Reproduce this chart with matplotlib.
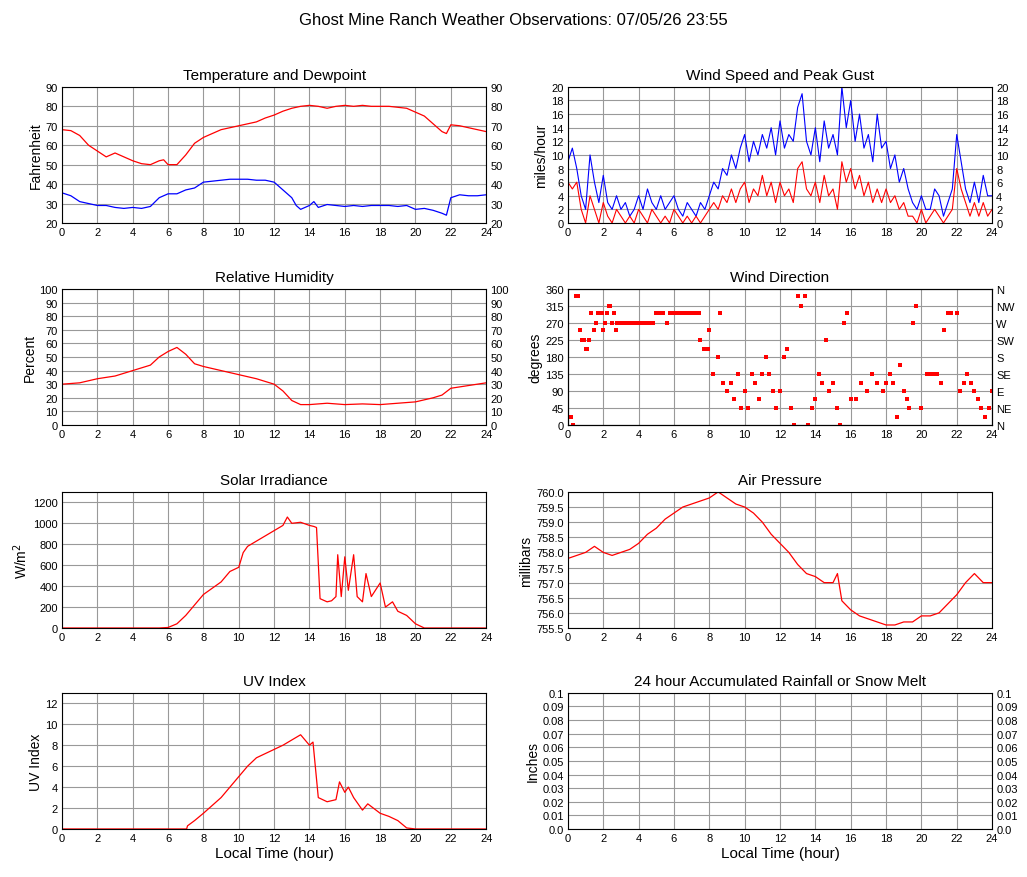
import numpy as np
import matplotlib
matplotlib.use("Agg")
import matplotlib.pyplot as plt

plt.rcParams['font.family'] = ['Liberation Sans', 'DejaVu Sans']

temp_t = [0,0.5,1,1.5,2,2.5,3,3.5,4,4.5,5,5.5,5.75,6,6.5,7,7.5,8,8.5,9,9.5,10,10.5,11,11.5,12,12.5,13,13.5,14,14.5,15,15.5,16,16.5,17,17.5,18,18.5,19,19.5,20,20.5,21,21.5,21.75,22,22.5,23,23.5,24]
temp_v = [68,67.5,65,60,57,54,56,54,52,50.5,50,52,52.5,50,50,55,61,64,66,68,69,70,71,72,74,75.5,77.5,79,80,80.5,80,79,80,80.5,80,80.5,80,80,80,79.5,79,77,75,71,67,66,70.5,70,69,68,67]
dew_t = [0,0.5,1,1.5,2,2.5,3,3.5,4,4.5,5,5.5,6,6.5,7,7.5,8,8.5,9,9.5,10,10.5,11,11.5,12,12.5,13,13.25,13.5,14,14.25,14.5,15,15.5,16,16.5,17,17.5,18,18.5,19,19.5,20,20.5,21,21.5,21.75,22,22.5,23,23.5,24]
dew_v = [35.5,34,31,30,29,29,28,27.5,28,27.5,28.5,33,35,35,37,38,41,41.5,42,42.5,42.5,42.5,42,42,41,37,33,29,27,29,31,28,29.5,29,28.5,29,28.5,29,29,29,28.5,29,27,27.5,26.5,25,24,33,34.5,34,34,34.5]

gust = [9,11,8,4,2,10,6,3,7,3,2,4,2,3,1,2,4,2,5,3,2,4,2,3,4,2,1,3,2,1,3,2,4,6,5,8,7,10,8,11,13,9,12,10,13,11,14,10,15,11,13,12,17,19,12,10,14,9,15,11,13,10,20,14,18,12,16,11,13,9,16,11,12,8,10,6,8,5,3,2,4,2,2,5,4,1,3,5,13,9,5,3,6,3,7,4,4]
speed = [6,5,6,2,0,4,2,0,3,1,0,2,1,0,1,0,2,1,0,2,1,0,1,0,2,1,0,1,0,1,0,1,2,3,2,4,3,5,3,5,6,3,5,4,7,4,6,3,6,4,5,3,8,9,5,4,6,3,7,4,5,2,9,6,8,5,7,4,6,3,5,3,5,3,4,2,3,1,1,0,2,0,1,2,1,0,1,2,8,5,3,1,3,1,3,1,2]

rh_t = [0,1,2,3,4,5,5.5,6,6.5,7,7.5,8,9,10,11,12,12.5,13,13.5,14,15,16,17,18,19,20,21,21.5,22,23,24]
rh_v = [30,31,34,36,40,44,50,54,57,52,45,43,40,37,34,30,25,18,15,15,16,15,15.5,15,16,17,20,22,27,29,31]

dir_t = [0,0.1,0.2,0.3,0.45,0.55,0.7,0.8,0.9,1.0,1.1,1.2,1.3,1.5,1.6,1.7,1.8,1.9,2.0,2.1,2.2,2.3,2.4,2.5,2.6,2.7,2.8,3.0,3.2,3.4,3.6,3.8,4.0,4.2,4.4,4.6,4.8,5.0,5.2,5.4,5.6,5.8,6.0,6.2,6.4,6.6,6.8,7.0,7.2,7.4,7.5,7.7,7.9,8.0,8.2,8.5,8.6,8.8,9.0,9.2,9.4,9.6,9.8,10.0,10.2,10.4,10.6,10.8,11.0,11.2,11.4,11.6,11.8,12.0,12.2,12.4,12.6,12.8,13.0,13.2,13.4,13.6,13.8,14.0,14.2,14.4,14.6,14.8,15.0,15.2,15.4,15.6,15.8,16.0,16.3,16.6,16.9,17.2,17.5,17.8,18.0,18.2,18.4,18.6,18.8,19.0,19.2,19.3,19.5,19.7,20.0,20.3,20.5,20.7,20.9,21.1,21.3,21.5,21.7,22.0,22.2,22.4,22.6,22.8,23.0,23.2,23.4,23.6,23.8,24.0]
dir_v = [22,22,22,0,340,340,250,225,225,200,200,225,295,250,270,295,295,295,250,270,295,315,315,270,295,250,270,270,270,270,270,270,270,270,270,270,270,295,295,295,270,295,295,295,295,295,295,295,295,295,225,200,200,250,135,180,295,110,90,110,70,135,45,90,45,135,110,70,135,180,135,90,45,90,180,200,45,0,340,315,340,0,45,70,135,110,225,90,110,45,0,270,295,70,70,110,90,135,110,90,110,135,110,20,160,90,70,45,270,315,45,135,135,135,135,110,250,295,295,295,90,110,135,110,90,70,45,20,45,90]

sol_t = [0,5.5,6,6.5,7,7.5,8,8.5,9,9.5,10,10.25,10.5,11,11.5,12,12.5,12.75,13,13.5,14,14.25,14.4,14.6,15,15.25,15.5,15.6,15.8,16,16.2,16.5,16.7,17,17.2,17.5,18,18.3,18.7,19,19.5,20,20.5,24]
sol_v = [0,0,5,40,120,220,320,380,440,540,580,720,780,830,880,930,980,1060,1000,1010,980,970,960,280,250,260,300,700,300,680,360,700,300,250,520,300,430,200,250,160,120,40,0,0]

pr_t = list(np.arange(0, 24.01, 0.5)[:31]) + [15.25] + list(np.arange(15.5, 24.01, 0.5))
pr_v = [757.8,757.9,758.0,758.2,758.0,757.9,758.0,758.1,758.3,758.6,758.8,759.1,759.3,759.5,759.6,759.7,759.8,760.0,759.8,759.6,759.5,759.3,759.0,758.6,758.3,758.0,757.6,757.3,757.2,757.0,757.0,757.3,756.4,756.1,755.9,755.8,755.7,755.6,755.6,755.7,755.7,755.9,755.9,756.0,756.3,756.6,757.0,757.3,757.0,757.0]

uv_t = [0,7.05,7.1,7.5,8,9,10,10.5,11,12,12.5,13,13.5,14,14.2,14.5,15,15.5,15.7,16,16.2,16.5,17,17.3,18,18.5,19,19.5,20,24]
uv_v = [0,0,0.3,0.8,1.5,3.0,5.0,6,6.8,7.6,8.0,8.5,9.0,8.0,8.3,3.0,2.6,2.8,4.5,3.5,4.0,3.0,1.8,2.4,1.5,1.2,0.8,0.1,0,0]

fig = plt.figure(figsize=(10.27, 8.78), dpi=100)
fig.suptitle("Ghost Mine Ranch Weather Observations: 07/05/26 23:55", y=0.985, fontsize=12)
L, R, W, H = 0.0604, 0.553, 0.413, 0.155
bots = [0.7449, 0.5148, 0.2836, 0.0547]

def mk(col, row, title, ylabel, ylim, yticks, right=False):
    ax = fig.add_axes([L if col == 0 else R, bots[row], W, H])
    ax.set_xlim(0, 24); ax.set_xticks(range(0, 25, 2))
    ax.set_ylim(*ylim); ax.set_yticks(yticks)
    ax.grid(True, color='#999999', lw=0.8)
    ax.set_axisbelow(True)
    ax.set_title(title, fontsize=11)
    ax.set_ylabel(ylabel, fontsize=10, labelpad=2)
    ax.tick_params(labelsize=8, length=0, pad=3, right=False, labelright=right)
    if row == 3:
        ax.set_xlabel("Local Time (hour)", fontsize=11, labelpad=2)
    return ax

ax = mk(0, 0, "Temperature and Dewpoint", "Fahrenheit", (20, 90), range(20, 91, 10), True)
ax.plot(temp_t, temp_v, color='red', lw=0.9)
ax.plot(dew_t, dew_v, color='blue', lw=0.9)

ax = mk(1, 0, "Wind Speed and Peak Gust", "miles/hour", (0, 20), range(0, 21, 2), True)
ax.plot(np.linspace(0, 24, len(gust)), gust, color='blue', lw=0.8)
ax.plot(np.linspace(0, 24, len(speed)), speed, color='red', lw=0.8)

ax = mk(0, 1, "Relative Humidity", "Percent", (0, 100), range(0, 101, 10), True)
ax.plot(rh_t, rh_v, color='red', lw=0.9)

ax = mk(1, 1, "Wind Direction", "degrees", (0, 360), range(0, 361, 45))
n = min(len(dir_t), len(dir_v))
ax.scatter(dir_t[:n], dir_v[:n], s=6, marker='s', color='red', lw=0)
ax2 = ax.twinx(); ax2.set_ylim(0, 360); ax2.set_yticks(range(0, 361, 45))
ax2.set_yticklabels(['N', 'NE', 'E', 'SE', 'S', 'SW', 'W', 'NW', 'N'])
ax2.tick_params(labelsize=8, length=0, pad=3)

ax = mk(0, 2, "Solar Irradiance", "W/m$^2$", (0, 1300), range(0, 1201, 200))
ax.plot(sol_t, sol_v, color='red', lw=0.9)

ax = mk(1, 2, "Air Pressure", "millibars", (755.5, 760.0), np.arange(755.5, 760.01, 0.5))
ax.yaxis.set_major_formatter(matplotlib.ticker.FormatStrFormatter('%.1f'))
ax.plot(pr_t, pr_v, color='red', lw=0.9)

ax = mk(0, 3, "UV Index", "UV Index", (0, 13), range(0, 13, 2))
ax.plot(uv_t, uv_v, color='red', lw=0.9)

ax = mk(1, 3, "24 hour Accumulated Rainfall or Snow Melt", "Inches", (0, 0.1), np.arange(0, 0.1001, 0.01), True)
ax.set_yticklabels(['0.0'] + ['%g' % v for v in np.arange(0.01, 0.1001, 0.01).round(2)])

fig.savefig("out.png", dpi=100)
